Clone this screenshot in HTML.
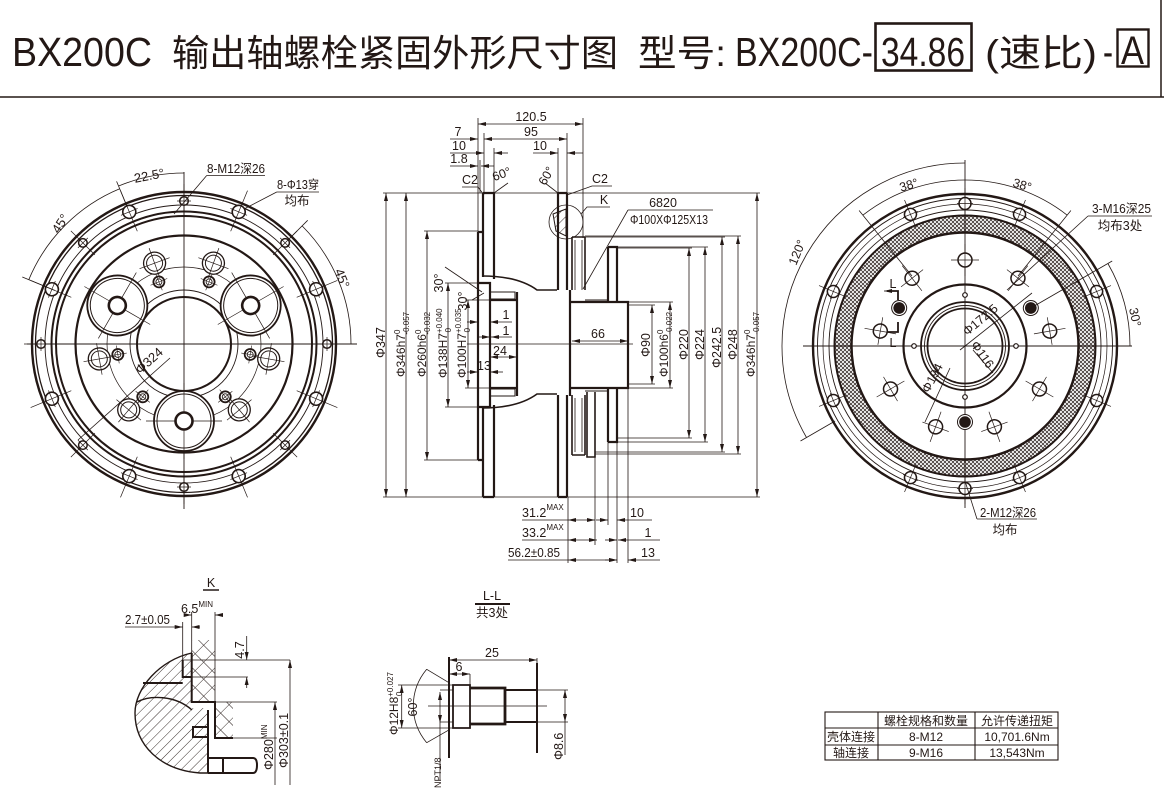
<!DOCTYPE html>
<html><head><meta charset="utf-8">
<style>
html,body{margin:0;padding:0;background:#fff;width:1164px;height:792px;overflow:hidden}
svg{display:block}
text{font-family:"Liberation Sans","Noto Sans CJK SC",sans-serif;fill:#231815;stroke:none}
</style></head><body>
<svg width="1164" height="792" viewBox="0 0 1164 792" xmlns="http://www.w3.org/2000/svg">
<defs>
 <marker id="ar" viewBox="0 0 8 4" refX="8" refY="2" markerWidth="8" markerHeight="4" orient="auto-start-reverse" markerUnits="userSpaceOnUse"><path d="M0,0L8,2L0,4z" fill="#231815"/></marker>
 <pattern id="hx" width="4" height="4" patternUnits="userSpaceOnUse"><path d="M0,4L4,0M0,0L4,4" stroke="#231815" stroke-width="0.7"/></pattern>
 <pattern id="hd" width="7" height="7" patternUnits="userSpaceOnUse" patternTransform="rotate(45)"><line x1="0" y1="0" x2="0" y2="7" stroke="#231815" stroke-width="0.9"/></pattern>
 <pattern id="hk" width="12" height="12" patternUnits="userSpaceOnUse" patternTransform="rotate(45)"><path d="M0,0V12M0,0H12" stroke="#231815" stroke-width="0.9"/></pattern>
 <g id="bh"><circle cx="0" cy="-143" r="4.3" fill="#fff" stroke-width="1.5"/><path d="M0,-126V-160M-7,-143H7" stroke-width="0.7"/></g>
 <g id="bL"><circle cx="0" cy="-143" r="6.5" fill="#fff" stroke-width="1.6"/><path d="M0,-122V-166M-9,-143H9" stroke-width="0.7"/></g>
 <g id="mh"><circle cx="86" cy="0" r="11" fill="#fff" stroke-width="1.3"/><circle cx="86" cy="0" r="8" stroke-width="1"/><path d="M70,0H102M86,-16V16" stroke-width="0.7"/></g>
 <g id="sh"><circle cx="67" cy="0" r="5.5" fill="#fff" stroke-width="1.8"/><circle cx="67" cy="0" r="3" stroke-width="0.9"/><path d="M58,0H76M67,-9V9" stroke-width="0.6"/></g>
 <g id="gh"><circle cx="77" cy="0" r="30" fill="#fff" stroke-width="1.8"/><circle cx="77" cy="0" r="27" stroke-width="1"/><circle cx="77" cy="0" r="8.5" stroke-width="2.6"/><path d="M39,0H68M86,0H115M77,-38V-9M77,9V38" stroke-width="0.7"/></g>
 <g id="rb"><circle cx="0" cy="-142.5" r="6" fill="#fff" stroke-width="1.5"/><path d="M0,-128V-158M-8,-142.5H8" stroke-width="0.7"/></g>
 <g id="ro"><circle cx="0" cy="-86" r="7" fill="#fff" stroke-width="1.5"/><path d="M0,-70V-102M-14,-86H14" stroke-width="0.7"/></g>
 <g id="rf"><circle cx="0" cy="-76" r="7.5" fill="#fff" stroke-width="1"/><circle cx="0" cy="-76" r="5.8" fill="#231815" stroke="none"/></g>
</defs>

<!-- TITLE -->
<text x="12" y="66" font-size="41" textLength="140" lengthAdjust="spacingAndGlyphs">BX200C</text>
<text x="172" y="66" font-size="37" textLength="446" lengthAdjust="spacingAndGlyphs">输出轴螺栓紧固外形尺寸图</text>
<text x="638" y="66" font-size="37" textLength="88" lengthAdjust="spacingAndGlyphs">型号:</text>
<text x="735" y="66" font-size="41" textLength="138" lengthAdjust="spacingAndGlyphs">BX200C-</text>
<rect x="875.5" y="23.5" width="96" height="47" fill="none" stroke="#231815" stroke-width="2.6"/>
<text x="881" y="66" font-size="41" textLength="84" lengthAdjust="spacingAndGlyphs">34.86</text>
<text x="985" y="66" font-size="37" textLength="112" lengthAdjust="spacingAndGlyphs">(速比)</text>
<text x="1103" y="66" font-size="41" textLength="10" lengthAdjust="spacingAndGlyphs">-</text>
<rect x="1117.5" y="29.5" width="31" height="37" fill="none" stroke="#231815" stroke-width="2.4"/>
<text x="1121" y="64" font-size="40" textLength="23" lengthAdjust="spacingAndGlyphs">A</text>
<path d="M0,97H1164M1161,0V97" stroke="#231815" stroke-width="1.5" fill="none"/>

<!-- LEFT VIEW -->
<g transform="translate(184,344)" stroke="#231815" fill="none">
 <circle r="152" stroke-width="2.4"/>
 <circle r="148.5" stroke-width="1.3"/>
 <circle r="139" stroke-width="0.9"/>
 <circle r="132.5" stroke-width="2"/>
 <circle r="128" stroke-width="2"/>
 <circle r="108.5" stroke-width="2.2"/>
 <circle r="77" stroke-width="0.7"/>
 <circle r="54" stroke-width="0.9"/>
 <circle r="47" stroke-width="2"/>
 <path d="M-157,0H173M0,-172V165" stroke-width="0.9"/>
 <use href="#bh"/><use href="#bL" transform="rotate(22.5)"/><use href="#bh" transform="rotate(45)"/><use href="#bL" transform="rotate(67.5)"/>
 <use href="#bh" transform="rotate(90)"/><use href="#bL" transform="rotate(112.5)"/><use href="#bh" transform="rotate(135)"/><use href="#bL" transform="rotate(157.5)"/>
 <use href="#bh" transform="rotate(180)"/><use href="#bL" transform="rotate(202.5)"/><use href="#bh" transform="rotate(225)"/><use href="#bL" transform="rotate(247.5)"/>
 <use href="#bh" transform="rotate(270)"/><use href="#bL" transform="rotate(292.5)"/><use href="#bh" transform="rotate(315)"/><use href="#bL" transform="rotate(337.5)"/>
 <use href="#sh" transform="rotate(9)"/><use href="#sh" transform="rotate(52)"/><use href="#sh" transform="rotate(128)"/><use href="#sh" transform="rotate(171)"/><use href="#sh" transform="rotate(248)"/><use href="#sh" transform="rotate(292)"/>
 <use href="#mh" transform="rotate(10)"/><use href="#mh" transform="rotate(50)"/><use href="#mh" transform="rotate(130)"/><use href="#mh" transform="rotate(170)"/><use href="#mh" transform="rotate(250)"/><use href="#mh" transform="rotate(290)"/>
 <use href="#gh" transform="rotate(90)"/><use href="#gh" transform="rotate(210)"/><use href="#gh" transform="rotate(330)"/>
</g>
<g stroke="#231815" fill="none" stroke-width="0.8">
 <path d="M184,173A171,171 0 0 0 118.6,186"/>
 <path d="M28.8,279.7A168,168 0 0 1 119.7,188.8"/>
 <path d="M54.7,290.4L22.3,277M126.6,205.4L116.6,181.4"/>
 <path d="M302.1,225.9A167,167 0 0 1 351,344"/>
 <path d="M290,238L307.7,220.3"/>
 <path d="M206.7,175.5H265M206.7,175.5L174,214"/>
 <path d="M276.7,192H319M276.7,192L244,209"/>
 <path d="M78,440L170,358"/>
</g>
<text transform="translate(150,180) rotate(-11)" font-size="13" text-anchor="middle">22.5°</text>
<text transform="translate(64,226) rotate(-57)" font-size="13" text-anchor="middle">45°</text>
<text transform="translate(338,280) rotate(68)" font-size="13" text-anchor="middle">45°</text>
<text x="207" y="173" font-size="12.5" textLength="58" lengthAdjust="spacingAndGlyphs">8-M12深26</text>
<text x="277" y="189" font-size="12.5" textLength="42" lengthAdjust="spacingAndGlyphs">8-Φ13穿</text>
<text x="297" y="205" font-size="12.5" text-anchor="middle">均布</text>
<text transform="translate(152,364) rotate(-42)" font-size="13" text-anchor="middle">Φ324</text>

<!-- MIDDLE SECTION -->
<g stroke="#231815" fill="none">
 <path stroke-width="0.8" d="M383,193H760M383,497H760M424,231H478M424,460H478M445,283H478M445,407H478M465,300H490M465,388H490M628,305H655M628,384H655M628,302H673M628,388H673M617,248H692M617,438H692M617,247H708M617,442H708M585,237H725M595,452H725M585,236H741M595,454H741M478,118V232M583,118V238M484,133V193M567,133V193M494,148V193M558,148V193M480,160V193M568,497V563M595,457V545M608,442V525M617,442V563M628,388V563M467,344H633"/>
 <g stroke-width="0.8" marker-start="url(#ar)" marker-end="url(#ar)">
  <line x1="386" y1="193" x2="386" y2="497"/>
  <line x1="406" y1="193" x2="406" y2="497"/>
  <line x1="427" y1="231" x2="427" y2="460"/>
  <line x1="448" y1="283" x2="448" y2="407"/>
  <line x1="468" y1="300" x2="468" y2="388"/>
  <line x1="652" y1="305" x2="652" y2="384"/>
  <line x1="670" y1="302" x2="670" y2="388"/>
  <line x1="689" y1="248" x2="689" y2="438"/>
  <line x1="705" y1="247" x2="705" y2="442"/>
  <line x1="722" y1="237" x2="722" y2="452"/>
  <line x1="738" y1="236" x2="738" y2="454"/>
  <line x1="757" y1="193" x2="757" y2="497"/>
  <line x1="478" y1="124" x2="583" y2="124"/>
  <line x1="484" y1="139" x2="567" y2="139"/>
  <line x1="572" y1="341" x2="628" y2="341"/>
  <line x1="568" y1="520" x2="595" y2="520"/>
  <line x1="568" y1="540" x2="597" y2="540"/>
  <line x1="568" y1="560" x2="617" y2="560"/>
 </g>
 <g stroke-width="0.8">
  <path d="M450,139H478" marker-end="url(#ar)"/>
  <path d="M450,153H484" marker-end="url(#ar)"/><path d="M494,153H508" marker-start="url(#ar)"/>
  <path d="M450,166H478" marker-end="url(#ar)"/><path d="M481,166H494" marker-start="url(#ar)"/>
  <path d="M533,153H558" marker-end="url(#ar)"/><path d="M567,153H583" marker-start="url(#ar)"/>
  <path d="M522,520H568M522,540H568M508,560H568"/>
  <path d="M596,520H608" marker-end="url(#ar)"/><path d="M617,520H652" marker-start="url(#ar)"/>
  <path d="M605,540H617" marker-end="url(#ar)"/><path d="M618,540H660" marker-start="url(#ar)"/>
  <path d="M605,560H617" marker-end="url(#ar)"/><path d="M628,560H660" marker-start="url(#ar)"/>
  <path d="M467,322H478" marker-end="url(#ar)"/><path d="M490,322H512" marker-start="url(#ar)"/>
  <path d="M477,337H490" marker-end="url(#ar)"/><path d="M491,337H512" marker-start="url(#ar)"/>
  <path d="M490,357H517" marker-start="url(#ar)" marker-end="url(#ar)"/>
  <path d="M467,372H478" marker-end="url(#ar)"/><path d="M490,372H503" marker-start="url(#ar)"/>
  <path d="M462,187H478L484,195M612,186H592L567,195"/>
  <path d="M494,193L508,183M558,193L545,183"/>
  <path d="M445,267L482,292M472,300L484,293"/>
  <path d="M610,207H587L581,214M628,210H713M628,210L583,289"/>
  <circle cx="566" cy="222" r="17"/>
 </g>
 <path d="M553,214L566,209V236L556,231Z" fill="url(#hd)" stroke-width="1"/>
 <g stroke-width="2.2">
  <path d="M483,193V277M494,193V279M483,407V497M494,405V497M558,193V290M567,193V290M558,395V497M567,395V497M478,232V460M478,232H483M478,460H483M478,283H490V407H478M490,300V388M490,300H517M490,388H517M517,292V396M570,290V396M570,302H628V388H570M608,247V302H617V247H608M608,442V388H617V442H608M483,193H494M558,193H567M483,497H494M558,497H567"/>
 </g>
 <path d="M482,276C500,276 522,279 537,290H557M482,408C500,408 522,405 537,394H557" stroke-width="1.6"/>
 <path d="M572,237V290M585,237V290M572,237H585M572,395V455M585,395V455M572,455H585M587,392V457H595V392" stroke-width="1.6"/>
 <path d="M575,240V290M582,240V290M575,398V452M582,398V452" stroke-width="0.8"/>
 <path d="M490,292H515V299H490M490,389H515V396H490" stroke-width="1"/>
 <path d="M585,300H608M617,302H628M585,391H608M617,388H628" stroke-width="1"/>
</g>
<g font-size="12.5">
 <text x="531" y="121" text-anchor="middle">120.5</text>
 <text x="531" y="136" text-anchor="middle">95</text>
 <text x="458" y="136" text-anchor="middle">7</text>
 <text x="459" y="150" text-anchor="middle">10</text>
 <text x="459" y="163" text-anchor="middle">1.8</text>
 <text x="540" y="150" text-anchor="middle">10</text>
 <text x="470" y="184" text-anchor="middle">C2</text>
 <text x="600" y="183" text-anchor="middle">C2</text>
 <text transform="translate(503,178) rotate(-20)" text-anchor="middle">60°</text>
 <text transform="translate(550,178) rotate(-60)" text-anchor="middle">60°</text>
 <text x="604" y="204" text-anchor="middle">K</text>
 <text x="663" y="207" text-anchor="middle">6820</text>
 <text x="669" y="224" text-anchor="middle" textLength="78" lengthAdjust="spacingAndGlyphs">Φ100XΦ125X13</text>
 <text transform="translate(443,283) rotate(-90)" text-anchor="middle">30°</text>
 <text transform="translate(467,301) rotate(-90)" text-anchor="middle">30°</text>
 <text x="506" y="319" text-anchor="middle">1</text>
 <text x="506" y="335" text-anchor="middle">1</text>
 <text x="500" y="355" text-anchor="middle">24</text>
 <text x="484" y="370" text-anchor="middle">13</text>
 <text x="598" y="338" text-anchor="middle">66</text>
 <text x="522" y="517">31.2<tspan font-size="8" dy="-7">MAX</tspan></text>
 <text x="522" y="537">33.2<tspan font-size="8" dy="-7">MAX</tspan></text>
 <text x="508" y="557" textLength="52" lengthAdjust="spacingAndGlyphs">56.2±0.85</text>
 <text x="637" y="517" text-anchor="middle">10</text>
 <text x="648" y="537" text-anchor="middle">1</text>
 <text x="648" y="557" text-anchor="middle">13</text>
 <text transform="translate(385,358) rotate(-90)">Φ347</text>
 <text transform="translate(405,377) rotate(-90)" font-size="12">Φ346h7<tspan font-size="8" dy="-5">0</tspan><tspan font-size="8" dx="-5" dy="9">-0.057</tspan></text>
 <text transform="translate(426,377) rotate(-90)" font-size="12">Φ260h6<tspan font-size="8" dy="-5">0</tspan><tspan font-size="8" dx="-5" dy="9">-0.032</tspan></text>
 <text transform="translate(447,378) rotate(-90)" font-size="12">Φ138H7<tspan font-size="8" dy="-5">+0.040</tspan><tspan font-size="8" dx="-24" dy="9">0</tspan></text>
 <text transform="translate(466,378) rotate(-90)" font-size="12">Φ100H7<tspan font-size="8" dy="-5">+0.035</tspan><tspan font-size="8" dx="-24" dy="9">0</tspan></text>
 <text transform="translate(650,357) rotate(-90)">Φ90</text>
 <text transform="translate(668,377) rotate(-90)" font-size="12">Φ100h6<tspan font-size="8" dy="-5">0</tspan><tspan font-size="8" dx="-5" dy="9">-0.022</tspan></text>
 <text transform="translate(688,360) rotate(-90)">Φ220</text>
 <text transform="translate(704,360) rotate(-90)">Φ224</text>
 <text transform="translate(721,368) rotate(-90)">Φ242.5</text>
 <text transform="translate(737,360) rotate(-90)">Φ248</text>
 <text transform="translate(755,377) rotate(-90)" font-size="12">Φ346h7<tspan font-size="8" dy="-5">0</tspan><tspan font-size="8" dx="-5" dy="9">-0.057</tspan></text>
</g>

<!-- RIGHT VIEW -->
<g transform="translate(965,346)" stroke="#231815" fill="none">
 <circle r="152" stroke-width="2.4"/>
 <circle r="147.5" stroke-width="0.9"/>
 <circle r="142" stroke-width="0.7"/>
 <circle r="136" stroke-width="0.9"/>
 <path d="M0,-130.5A130.5,130.5 0 1 0 0,130.5A130.5,130.5 0 1 0 0,-130.5ZM0,-113.5A113.5,113.5 0 1 1 0,113.5A113.5,113.5 0 1 1 0,-113.5Z" fill="url(#hx)" fill-rule="evenodd" stroke="none"/>
 <circle r="130.5" stroke-width="2"/>
 <circle r="113.5" stroke-width="2.4"/>
 <circle r="61.5" stroke-width="2.2"/>
 <circle r="44" stroke-width="1.8"/>
 <circle r="40.5" stroke-width="0.9"/>
 <circle r="37.5" stroke-width="1.8"/>
 <path d="M-162,0H167M0,-186V162" stroke-width="0.9"/>
 <circle cx="51" cy="0" r="2.3" fill="#fff" stroke-width="1.2"/><circle cx="-51" cy="0" r="2.3" fill="#fff" stroke-width="1.2"/>
 <circle cx="0" cy="51" r="2.3" fill="#fff" stroke-width="1.2"/><circle cx="0" cy="-51" r="2.3" fill="#fff" stroke-width="1.2"/>
 <use href="#rb"/><use href="#rb" transform="rotate(22.5)"/><use href="#rb" transform="rotate(-22.5)"/><use href="#rb" transform="rotate(67.5)"/><use href="#rb" transform="rotate(-67.5)"/>
 <use href="#rb" transform="rotate(112.5)"/><use href="#rb" transform="rotate(-112.5)"/><use href="#rb" transform="rotate(157.5)"/><use href="#rb" transform="rotate(-157.5)"/><use href="#rb" transform="rotate(180)"/>
 <use href="#ro"/><use href="#ro" transform="rotate(38)"/><use href="#ro" transform="rotate(-38)"/><use href="#ro" transform="rotate(80)"/><use href="#ro" transform="rotate(-80)"/>
 <use href="#ro" transform="rotate(120)"/><use href="#ro" transform="rotate(-120)"/><use href="#ro" transform="rotate(160)"/><use href="#ro" transform="rotate(-160)"/>
 <use href="#rf" transform="rotate(-60)"/><use href="#rf" transform="rotate(60)"/><use href="#rf" transform="rotate(180)"/>
</g>
<g stroke="#231815" fill="none" stroke-width="0.8">
 <path d="M965,163A183,183 0 0 0 806.5,437.5"/>
 <path d="M835.1,421L800.5,441"/>
 <path d="M965,180A166,166 0 0 0 862.8,215.2M965,180A166,166 0 0 1 1067.2,215.2"/>
 <path d="M912,276L859.1,210.5M1018,276L1070.9,210.5"/>
 <path d="M1107.9,263.5A165,165 0 0 1 1130,346"/>
 <path d="M1030,308.5L1112.2,261"/>
 <path d="M1088,216H1152M1088,216L1007,290"/>
 <path d="M977,519H1037M977,519L965,481"/>
 <path d="M960,350L1032,293"/>
 <path d="M973,350L993,373"/>
 <path d="M950,368L925,422"/>
 <path d="M894,291H884" marker-end="url(#ar)"/>
</g>
<path d="M887,291H898V300M898,322V332H887" stroke="#231815" stroke-width="1.8" fill="none"/>
<g font-size="12.5">
 <text transform="translate(910,189) rotate(-17)" text-anchor="middle">38°</text>
 <text transform="translate(1021,189) rotate(17)" text-anchor="middle">38°</text>
 <text transform="translate(801,254) rotate(-68)" text-anchor="middle">120°</text>
 <text transform="translate(1131,318) rotate(78)" text-anchor="middle">30°</text>
 <text x="1092" y="213" textLength="59" lengthAdjust="spacingAndGlyphs">3-M16深25</text>
 <text x="1120" y="230" text-anchor="middle">均布3处</text>
 <text x="980" y="517" textLength="56" lengthAdjust="spacingAndGlyphs">2-M12深26</text>
 <text x="1005" y="534" text-anchor="middle">均布</text>
 <text x="893" y="288" text-anchor="middle">L</text>
 <text x="893" y="347" text-anchor="middle">L</text>
 <text transform="translate(983,323) rotate(-40)" text-anchor="middle">Φ172.5</text>
 <text transform="translate(979,357) rotate(55)" text-anchor="middle">Φ116</text>
 <text transform="translate(936,380) rotate(-62)" text-anchor="middle">Φ194</text>
</g>

<!-- DETAIL K -->
<g stroke="#231815" fill="none">
 <path d="M203,590H219" stroke-width="1.5"/>
 <rect x="191.7" y="640" width="23.3" height="62" fill="url(#hk)" stroke="none"/>
 <rect x="215" y="702" width="18" height="36" fill="url(#hk)" stroke="none"/>
 <path d="M191.7,653C160,660 135,688 135,713C135,745 160,770 200,773H208V708H192Z" fill="url(#hd)" stroke="none"/>
 <path d="M191.7,653C160,660 135,688 135,713C135,745 160,770 200,773H208" stroke-width="1.4"/>
 <path d="M137,702C150,695 175,695 192,710" stroke-width="1.4"/>
 <g stroke-width="0.8">
  <path d="M182.7,622V660M191.7,612V653M215,612V702M182.7,660H290M182.7,677H248M215,702H277M233,738H277"/>
  <path d="M188,615H191.7" marker-end="url(#ar)"/><path d="M215,615H222" marker-start="url(#ar)"/>
  <path d="M125,627H182.7" marker-end="url(#ar)"/><path d="M191.7,627H200" marker-start="url(#ar)"/>
  <path d="M246.7,636V660" marker-end="url(#ar)"/><path d="M246.7,677V688" marker-start="url(#ar)"/>
  <path d="M275,702V785" marker-start="url(#ar)"/>
  <path d="M290,660V785" marker-start="url(#ar)"/>
 </g>
 <path d="M182.7,660V677H191.7M191.7,653V702H215V738H233M143,683H182.7M208,710V773M193,727H208V737H193Z" stroke-width="2"/>
 <path d="M208,758H253Q257,758 257,765Q257,773 253,773H208M223,758V773" stroke-width="2"/>
</g>
<g font-size="12.5">
 <text x="211" y="587" text-anchor="middle">K</text>
 <text x="197" y="613" text-anchor="middle">6.5<tspan font-size="8" dy="-6">MIN</tspan></text>
 <text x="125" y="624" textLength="45" lengthAdjust="spacingAndGlyphs">2.7±0.05</text>
 <text transform="translate(244,650) rotate(-90)" text-anchor="middle">4.7</text>
 <text transform="translate(273,770) rotate(-90)">Φ280<tspan font-size="8" dy="-6">MIN</tspan></text>
 <text transform="translate(288,768) rotate(-90)">Φ303±0.1</text>
</g>

<!-- DETAIL L-L -->
<g stroke="#231815" fill="none">
 <path d="M475,604H510" stroke-width="2"/>
 <path d="M449,657V758M537,663V753" stroke-width="2"/>
 <path d="M453,685H470V728H453Z" stroke-width="1.8"/>
 <path d="M470,688H505V724H470M505,688V724" stroke-width="2.8"/>
 <path d="M505,690H537M505,722H537" stroke-width="2"/>
 <g stroke-width="0.8">
  <path d="M428,706H547"/>
  <path d="M449,660H537" marker-start="url(#ar)" marker-end="url(#ar)"/>
  <path d="M449,674H470" marker-start="url(#ar)" marker-end="url(#ar)"/>
  <path d="M470,674V685M537,663V658"/>
  <path d="M398,685H453M398,728H453"/>
  <path d="M401.7,685V728" marker-start="url(#ar)" marker-end="url(#ar)"/>
  <path d="M440,690H453M440,722H453"/>
  <path d="M440,692V723" marker-start="url(#ar)" marker-end="url(#ar)"/>
  <path d="M440,723V780"/>
  <path d="M537,690H568M537,722H568"/>
  <path d="M565,690V722" marker-start="url(#ar)" marker-end="url(#ar)"/>
  <path d="M565,722V755"/>
  <path d="M426.7,669.3L450,683.3M426.7,742.7L450,729.3M426.7,669.3A57,57 0 0 0 426.7,742.7"/>
 </g>
</g>
<g font-size="12.5">
 <text x="492" y="600" text-anchor="middle">L-L</text>
 <text x="492" y="617" text-anchor="middle">共3处</text>
 <text x="492" y="657" text-anchor="middle">25</text>
 <text x="459" y="671" text-anchor="middle">6</text>
 <text transform="translate(398,735) rotate(-90)" font-size="12">Φ12H8<tspan font-size="8" dy="-5">+0.027</tspan><tspan font-size="8" dx="-24" dy="9">0</tspan></text>
 <text transform="translate(417,707) rotate(-90)" text-anchor="middle">60°</text>
 <text transform="translate(441,788) rotate(-90)" font-size="9">NPT1/8</text>
 <text transform="translate(563,760) rotate(-90)">Φ8.6</text>
</g>

<!-- TABLE -->
<g stroke="#231815" fill="none" stroke-width="1.1">
 <rect x="825" y="712" width="233" height="48"/>
 <path d="M878,712V760M975,712V760M825,728H1058M825,745H1058"/>
</g>
<g font-size="12" text-anchor="middle">
 <text x="926" y="725">螺栓规格和数量</text>
 <text x="1017" y="725">允许传递扭矩</text>
 <text x="851" y="741">壳体连接</text>
 <text x="926" y="741">8-M12</text>
 <text x="1017" y="741">10,701.6Nm</text>
 <text x="851" y="757">轴连接</text>
 <text x="926" y="757">9-M16</text>
 <text x="1017" y="757">13,543Nm</text>
</g>
</svg>
</body></html>
